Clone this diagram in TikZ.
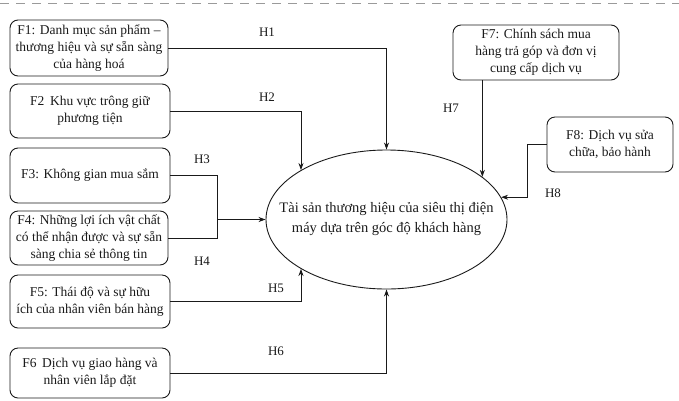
\documentclass[tikz,border=0pt]{standalone}
\usepackage{fontspec}
\setmainfont{Liberation Serif}
\usetikzlibrary{shapes.geometric,arrows.meta,positioning,calc}
\definecolor{inkscan}{HTML}{1A1A1A}
\definecolor{scanedge}{HTML}{9A9A9A}

\begin{document}
\begin{tikzpicture}[
    x=1pt, y=-1pt,
    >=Stealth,
    font=\fontsize{13.5}{17}\selectfont,
    % rounded factor boxes, thin dark border
    card/.style={draw=inkscan, line width=0.9pt, rounded corners=8pt, align=center,
                 inner sep=2pt, text=inkscan},
    % the outcome construct in the middle; negative xsep keeps the fixed size
    core/.style={draw=inkscan, line width=0.9pt, ellipse, align=center,
                 minimum width=241pt, minimum height=139pt, inner xsep=-40pt, inner ysep=0pt,
                 text=inkscan, font=\fontsize{14.5}{20}\selectfont},
    % hypothesis paths: thin, elbowed, small filled head
    flow/.style={-{Stealth[length=7pt,width=5pt]}, line width=0.8pt, draw=inkscan},
    link/.style={line width=0.8pt, draw=inkscan},
    hlab/.style={font=\fontsize{13}{15}\selectfont, text=inkscan},
]
\useasboundingbox (0,0) rectangle (679,400);

% faint scan edge along the top
\draw[scanedge, line width=0.8pt, dash pattern=on 9pt off 7pt] (0,3) -- (679,3);

%================= the outcome =================%
\node[core] (tsth) at (386.5,219.5)
  {Tài sản thương hiệu của siêu thị điện\\ máy dựa trên góc độ khách hàng};

%================= left column : F1 .. F6 =================%
\node[card, minimum width=158pt, minimum height=56pt] (f1) at (89,48)
  {F1: Danh mục sản phẩm –\\ thương hiệu và sự sẵn sàng\\ của hàng hoá};
\node[card, minimum width=160pt, minimum height=54pt] (f2) at (90,111)
  {F2\, Khu vực trông giữ\\ phương tiện};
\node[card, minimum width=160pt, minimum height=55pt] (f3) at (90,175.5)
  {F3: Không gian mua sắm};
\node[card, minimum width=158pt, minimum height=54pt] (f4) at (89,238)
  {F4: Những lợi ích vật chất\\ có thể nhận được và sự sẵn\\ sàng chia sẻ thông tin};
\node[card, minimum width=160pt, minimum height=53pt] (f5) at (90,301.5)
  {F5: Thái độ và sự hữu\\ ích của nhân viên bán hàng};
\node[card, minimum width=160pt, minimum height=50pt] (f6) at (90,373)
  {F6\, Dịch vụ giao hàng và\\ nhân viên lắp đặt};

%================= right side : F7, F8 =================%
\node[card, minimum width=166pt, minimum height=55pt] (f7) at (536,52.5)
  {F7: Chính sách mua\\ hàng trả góp và đơn vị\\ cung cấp dịch vụ};
\node[card, minimum width=126pt, minimum height=55pt] (f8) at (610,144.5)
  {F8: Dịch vụ sửa\\ chữa, bảo hành};

%================= hypothesis paths =================%
\draw[flow] (f1.east) -| (tsth.north);
\draw[flow] (f2.east) -| (tsth.north west);
\coordinate (join34) at ([xshift=-48pt]tsth.west);
\draw[link] (f3.east) -| (join34);
\draw[link] (f4.east) -| (join34);
\draw[flow] (join34) -- (tsth.west);
\draw[flow] (f5.east) -| (tsth.south west);
\draw[flow] (f6.east) -| (tsth.south);
\draw[flow] (f7.south -| tsth.24) -- (tsth.24);
\draw[flow] (f8.west) -- ++(-19,0) |- (tsth.11);

%================= labels =================%
\node[hlab] (h1) at (267,32)  {H1};
\node[hlab] (h2) at (267,97)  {H2};
\node[hlab] (h3) at (202,159) {H3};
\node[hlab] (h4) at (202,261) {H4};
\node[hlab] (h5) at (276,288) {H5};
\node[hlab] (h6) at (276,351) {H6};
\node[hlab] (h7) at (451,108) {H7};
\node[hlab] (h8) at (553,193) {H8};

\end{tikzpicture}
\end{document}
